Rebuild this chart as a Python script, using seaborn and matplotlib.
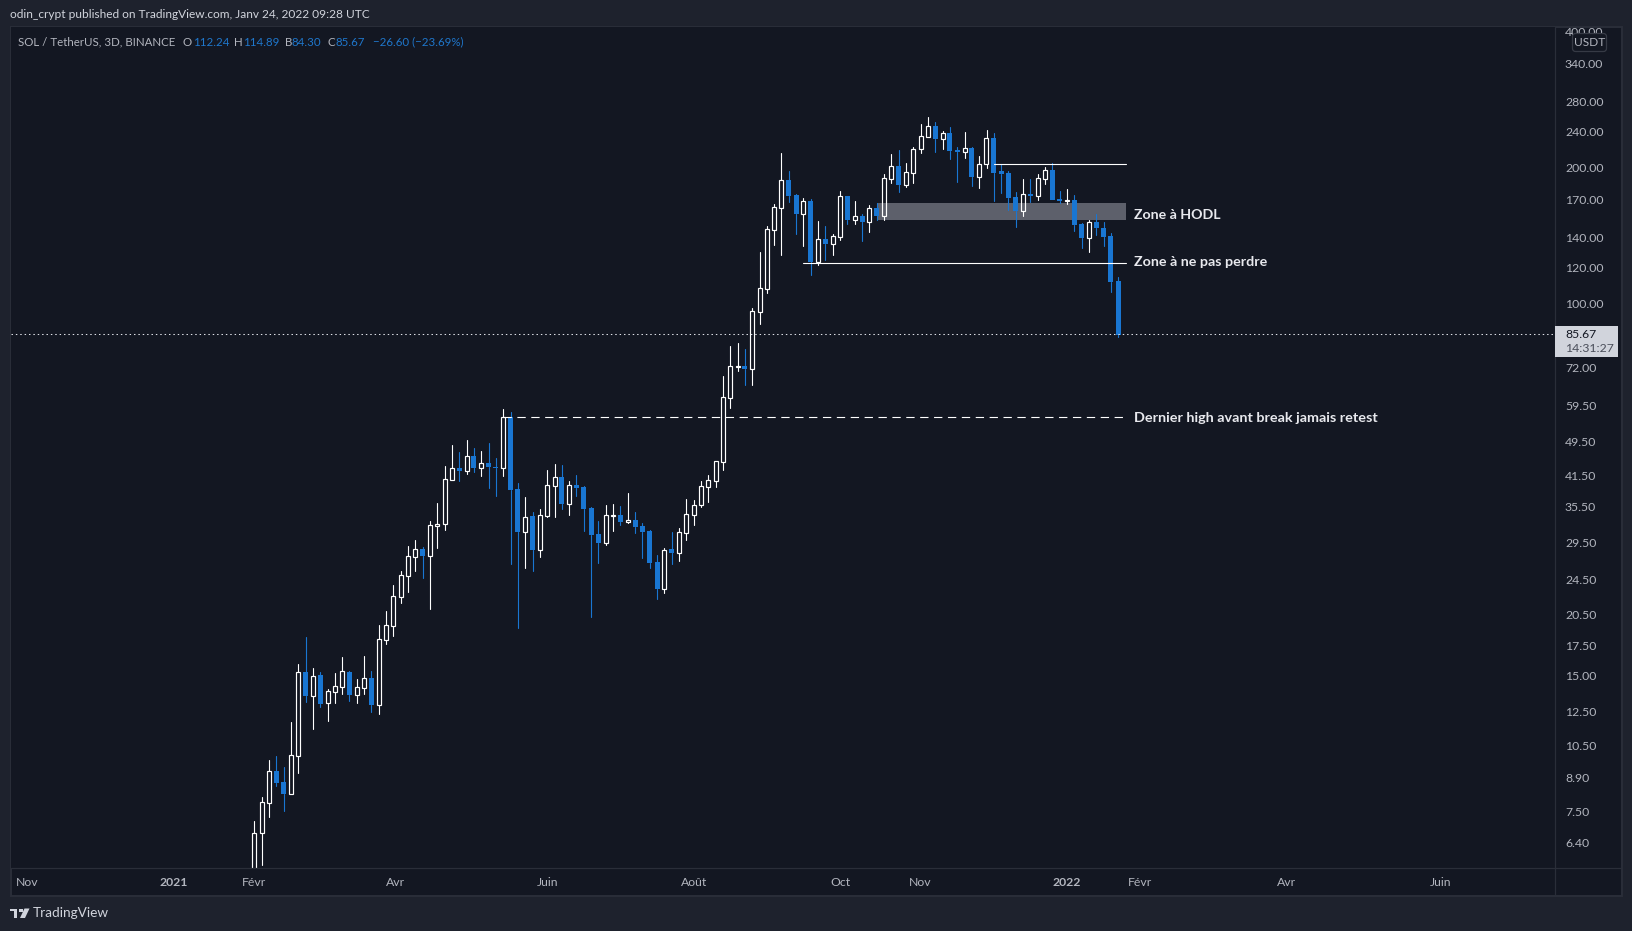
import numpy as np
import pandas as pd
import seaborn as sns
import matplotlib
matplotlib.use('Agg')
import matplotlib.pyplot as plt
import matplotlib.dates as mdates
from matplotlib.patches import Rectangle, Polygon, FancyBboxPatch
from matplotlib.lines import Line2D
from matplotlib.transforms import IdentityTransform
from matplotlib.ticker import NullLocator

# ---------- data ----------
first_bar = '2021-02-02'
bar_days = 3
opens = [4.09, 6.7, 7.83, 9.19, 8.7, 8.2, 9.96, 15.23, 13.52, 15.03, 13.05, 13.8, 14.16, 15.26, 13.59, 14.09, 14.8, 12.92, 17.99, 19.33, 22.41, 24.94, 27.48, 28.58, 27.62, 32.19, 32.52, 40.71,
         43.2, 42.62, 45.93, 43.2, 44.32, 43.42, 43.28, 55.95, 38.81, 31.17, 33.82, 28.43, 33.88, 39.41, 41.26, 35.95, 39.61, 39.21, 35.23, 30.85, 29.52, 33.82, 33.99, 32.8, 33.13, 32.14, 31.33,
         26.74, 23.3, 28.58, 28.05, 31.06, 34.05, 35.71, 39.28, 40.5, 44.62, 61.85, 72.33, 72.7, 71.71, 95.92, 107.86, 145.75, 163.06, 187.78, 173.95, 158.14, 168.7, 123.79, 138.97, 135.7, 140.63,
         173.06, 153.38, 156.27, 151.82, 162.78, 156.54, 188.74, 201.68, 183.36, 194.94, 219.58, 234.24, 247.34, 231.87, 238.67, 218.84, 216.99, 221.08, 190.68, 203.41, 232.66, 196.6, 194.61, 172.18,
         160.58, 174.84, 173.35, 189.06, 197.61, 170.43, 168.99, 169.56, 150.02, 139.92, 151.56, 146.99, 141.11, 112.16]
highs = [7.13, 8.06, 9.74, 9.94, 9.4, 11.82, 15.89, 18.24, 15.57, 15.26, 13.99,
         15.18, 16.47, 15.34, 14.72, 16.56, 15.34, 19.39, 20.83, 23.78, 25.54, 29.02, 29.92, 28.87, 32.97, 36.14, 43.64, 48.58, 46.88, 49.84, 47.84, 47.12, 49.08, 45.46, 58.38, 57.49, 40.02, 37.26,
         34.52, 35.05, 42.76, 44.09, 43.87, 40.43, 41.69, 39.41, 35.41, 32.97, 35.77, 35.95, 35.59, 38.03, 34.52, 32.58, 31.49, 27.72, 28.72, 31.17, 31.81, 36.88, 36.69, 40.43, 41.69, 44.7, 69.08,
         80.51, 81.75, 79.28, 97.73, 130.05, 148.5, 166.14, 215.51, 196.6, 174.84, 171.3, 170.14, 152.34, 148.5, 142.56, 177.53, 173.06, 168.7, 157.87, 165.29, 166.7, 193.62, 214.42, 218.84, 204.79,
         222.21, 249.88, 258.97, 252.44, 241.11, 246.09, 222.21, 239.89, 222.21, 212.24, 242.35, 238.67, 203.75, 196.6, 176.63, 188.74, 188.74, 193.62, 200.66, 204.79, 177.53, 179.35, 173.95, 150.79,
         153.12, 157.87, 151.56, 143.29, 114.48]
lows = [3.95, 5.7, 7.29, 8.53, 7.51, 8.2, 9.11, 13.09, 11.41, 12.76, 11.88, 13.03, 13.64, 13.16, 13.03, 13.64, 12.44, 12.31, 17.6, 18.33, 21.7, 22.95,
        25.54, 24.65, 21.04, 28.72, 31.49, 40.71, 40.43, 41.9, 42.33, 41.47, 39.01, 37.45, 41.47, 26.47, 19.1, 25.94, 25.54, 27.43, 33.65, 33.65, 35.05, 33.99, 37.45, 31.33, 20.2, 26.61, 29.17,
        31.33, 32.3, 32.63, 31.01, 27.29, 25.94, 22.14, 22.83, 26.47, 26.88, 29.92, 32.3, 35.41, 36.32, 39.21, 42.76, 58.67, 70.87, 65.98, 65.98, 90.07, 105.5, 134.78, 128.08, 167.84, 142.56,
        134.09, 115.65, 121.7, 124.85, 128.08, 138.26, 150.02, 150.02, 137.56, 144.02, 153.12, 153.12, 184.93, 176.63, 181.19, 184.93, 215.51, 234.24, 216.62, 219.96, 209.02, 185.87, 210.09, 182.12,
        180.27, 199.64, 168.7, 175.73, 161.13, 147.74, 156.27, 167.84, 169.56, 183.99, 169.56, 166.99, 166.14, 144.76, 132.73, 130.05, 141.83, 134.09, 106.04, 84.29]
closes = [6.7, 7.85, 9.19, 8.67, 8.19, 9.97, 15.23, 13.5, 14.92, 12.96, 13.82, 14.18, 15.31, 13.57, 14.11, 14.77, 12.89, 18.02, 19.36, 22.45, 24.98, 27.53, 28.53, 27.57, 32.25, 32.41, 40.77, 43.13, 42.55, 45.85, 43.2, 44.24, 43.42, 43.2, 55.95, 38.61, 31.17, 33.59, 28.43, 33.93, 39.55, 41.19, 35.95, 39.55, 39.01, 35.05, 30.69, 29.47, 33.93, 33.99, 32.8, 33.13, 31.97, 31.17, 26.61, 23.3, 28.38, 28.0, 31.11, 34.11, 35.71, 39.34, 40.57, 44.7, 61.96, 72.57, 72.7, 71.59, 96.08, 108.05, 145.99, 163.34, 187.46, 173.06, 157.87, 168.41, 123.58, 138.73, 135.47, 140.87, 172.77, 153.12, 156.01, 151.56, 162.51, 156.27, 189.38, 201.34, 183.05, 195.27, 219.58, 234.64, 246.92, 231.47, 238.26, 217.72, 216.62, 220.71, 190.68, 203.41, 232.26, 194.61, 193.62, 171.3, 160.31, 174.54, 173.06, 189.38, 197.27, 169.56, 168.7, 169.56, 149.26, 139.68, 151.3, 146.99, 140.39, 111.59, 85.3]
price_ticks = [400, 340, 280, 240, 200, 170, 140, 120, 100, 72, 59.5, 49.5, 41.5, 35.5, 29.5, 24.5, 20.5, 17.5, 15, 12.5, 10.5, 8.9, 7.5, 6.4]
time_ticks = ['2020-11-01', '2020-12-31', '2021-02-02', '2021-04-01', '2021-06-02', '2021-08-01', '2021-09-30', '2021-11-02', '2022-01-01', '2022-01-31', '2022-04-01', '2022-06-03']
time_labels = ['Nov', '2021', 'Févr', 'Avr', 'Juin', 'Août', 'Oct', 'Nov', '2022', 'Févr', 'Avr', 'Juin']
last_price = 85.67
high_line = (203.4, '2021-12-02')
floor_line = (122.8, '2021-09-15')
break_line = (55.95, '2021-05-15')
zone = (153.0, 167.0, '2021-10-15')
drawing_end = '2022-01-25'

# ---------- style ----------
W, H = 1633, 931
BG, OUTER, BORDER = '#131722', '#1e222d', '#2a2e39'
BLUE, WHITE, TXT = '#1976d2', '#ffffff', '#b2b5be'
TICK = 8.8
sns.set_theme(style='dark', rc={'axes.facecolor': BG, 'figure.facecolor': OUTER, 'axes.grid': False})
plt.rcParams['font.family'] = ['Lato', 'DejaVu Sans']

fig = plt.figure(figsize=(W / 100, H / 100), dpi=100, facecolor=OUTER)
L, R, T, B = 11, 1555, 27, 868
ax = fig.add_axes([L / W, 1 - B / H, (R - L) / W, (B - T) / H])
ax.set_facecolor(BG)
for s in ax.spines.values():
    s.set_visible(False)

dates = pd.date_range(first_bar, periods=len(opens), freq=f'{bar_days}D')
x = mdates.date2num(dates)
o, h, l, c = map(np.array, (opens, highs, lows, closes))
up = c >= o
top, bot = np.maximum(o, c), np.minimum(o, c)

# wicks through seaborn, two segments per candle
rows = []
for i in range(len(x)):
    kind = 'up' if up[i] else 'down'
    rows += [(x[i], h[i], f'{i}a', kind), (x[i], top[i], f'{i}a', kind),
             (x[i], bot[i], f'{i}b', kind), (x[i], l[i], f'{i}b', kind)]
wicks = pd.DataFrame(rows, columns=['x', 'price', 'seg', 'kind'])
sns.lineplot(data=wicks, x='x', y='price', units='seg', hue='kind', estimator=None, sort=False,
             palette={'up': WHITE, 'down': BLUE}, linewidth=0.8, legend=False, ax=ax, zorder=3)

DAYPX = 7.322 / bar_days
ax.bar(x[~up], (top - bot)[~up], bottom=bot[~up], width=5 / DAYPX, color=BLUE, linewidth=0, zorder=4)
ax.bar(x[up], (top - bot)[up], bottom=bot[up], width=4 / DAYPX, facecolor='none', edgecolor=WHITE, linewidth=0.85, zorder=4)

ax.set_yscale('log')
ax.set_ylim(5.613, 409.9)
x0 = mdates.date2num(pd.Timestamp(first_bar))
ax.set_xlim(x0 + (L - 254.3) / DAYPX, x0 + (R - 254.3) / DAYPX)

num = lambda s: mdates.date2num(pd.Timestamp(s))
end = num(drawing_end)
ax.add_patch(Rectangle((num(zone[2]), zone[0]), end - num(zone[2]), zone[1] - zone[0], facecolor='#5d606b', edgecolor='none', zorder=2))
ax.plot([num(high_line[1]), end], [high_line[0]] * 2, color=WHITE, lw=0.8, zorder=5)
ax.plot([num(floor_line[1]), end], [floor_line[0]] * 2, color=WHITE, lw=0.8, zorder=5)
ax.plot([num(break_line[1]), end], [break_line[0]] * 2, color=WHITE, lw=0.8, dashes=(7.5, 5), zorder=5)
ax.axhline(last_price, color='#dfe1e8', lw=0.75, dashes=(1.4, 2.8), zorder=5)

ax.yaxis.tick_right()
ax.set_yticks(price_ticks)
ax.set_yticklabels([f'{p:.2f}' for p in price_ticks])
ax.yaxis.set_minor_locator(NullLocator())
ax.set_xticks([num(t) for t in time_ticks])
ax.set_xticklabels(time_labels)
ax.tick_params(axis='y', length=0, pad=7.2, labelsize=TICK, labelcolor=TXT)
ax.tick_params(axis='x', length=0, pad=6.2, labelsize=TICK, labelcolor=TXT)
for t in ax.get_xticklabels():
    if t.get_text() in ('2021', '2022'):
        t.set_fontweight('bold')
ax.set_xlabel(''); ax.set_ylabel('')

# ---------- chrome, in pixel coordinates ----------
def px(xp, yp):
    return xp / W, 1 - yp / H
def ptext(xp, yp, s, color=TXT, size=TICK, weight='normal', ha='left', zorder=10):
    return fig.text(*px(xp, yp), s, color=color, fontsize=size, fontweight=weight, ha=ha, va='center', zorder=zorder)
def prect(x0p, y0p, x1p, y1p, **kw):
    r = Rectangle(px(x0p, y1p), (x1p - x0p) / W, (y1p - y0p) / H, transform=fig.transFigure, **kw)
    fig.add_artist(r)
    return r
def pline(x0p, y0p, x1p, y1p, color=BORDER, lw=0.9):
    a, b = px(x0p, y0p), px(x1p, y1p)
    fig.add_artist(Line2D([a[0], b[0]], [a[1], b[1]], color=color, lw=lw, transform=fig.transFigure))

prect(L, T, 1622.5, 895.5, facecolor=BG, edgecolor=BORDER, lw=1.4, zorder=-5)
pline(R, T, R, 895)
pline(L, B, 1622, B)

ptext(10, 15, 'odin_crypt published on TradingView.com, Janv 24, 2022 09:28 UTC', color='#d1d4dc', size=8.6)
ptext(17.7, 42, 'SOL / TetherUS, 3D, BINANCE', size=8.3)
LB = '#1f77cc'
for xp, s, col in [(182.7, 'O', TXT), (192.7, '112.24', LB), (234, 'H', TXT), (243, '114.89', LB),
                   (285, 'B', TXT), (291.7, '84.30', LB), (328, 'C', TXT), (336, '85.67', LB),
                   (372.7, '−26.60 (−23.69%)', LB)]:
    ptext(xp, 42, s, color=col, size=8.3)

# annotations
ANN = '#e8e9ee'
ptext(1134.5, 215.5, 'Zone à HODL', color=ANN, size=10.2, weight='bold')
ptext(1134.5, 262.5, 'Zone à ne pas perdre', color=ANN, size=10.3, weight='bold')
ptext(1134.5, 418.5, 'Dernier high avant break jamais retest', color=ANN, size=10.35, weight='bold')

# price axis badges
fig.add_artist(FancyBboxPatch((1572.5, H - 51.5), 34, 18, boxstyle='round,pad=0,rounding_size=3',
                              transform=IdentityTransform(), facecolor=BG, edgecolor='#363a45', lw=0.9, zorder=8))
ptext(1589.5, 42.5, 'USDT', size=8.6, ha='center')
prect(R, 326, 1618, 356.7, facecolor='#d1d4dc', edgecolor='none', zorder=8)
ptext(1565, 334.5, '85.67', color='#131722', size=TICK)
ptext(1565, 348.5, '14:31:27', color='#4a4e5a', size=TICK)

# footer logo and name
LOGO = '#d1d4dc'
fig.add_artist(Polygon([px(10, 908.5), px(17.5, 908.5), px(17.5, 918), px(13.6, 918), px(13.6, 911.3), px(10, 911.3)],
                       closed=True, transform=fig.transFigure, facecolor=LOGO, edgecolor='none'))
fig.add_artist(Polygon([px(24.5, 908.5), px(29.5, 908.5), px(25, 918), px(20, 918)],
                       closed=True, transform=fig.transFigure, facecolor=LOGO, edgecolor='none'))
prect(19.3, 908.5, 22.7, 911.9, facecolor=LOGO, edgecolor='none')
ptext(33, 913, 'TradingView', color='#d1d4dc', size=9.8)

fig.savefig('out.png', dpi=100, facecolor=OUTER)
